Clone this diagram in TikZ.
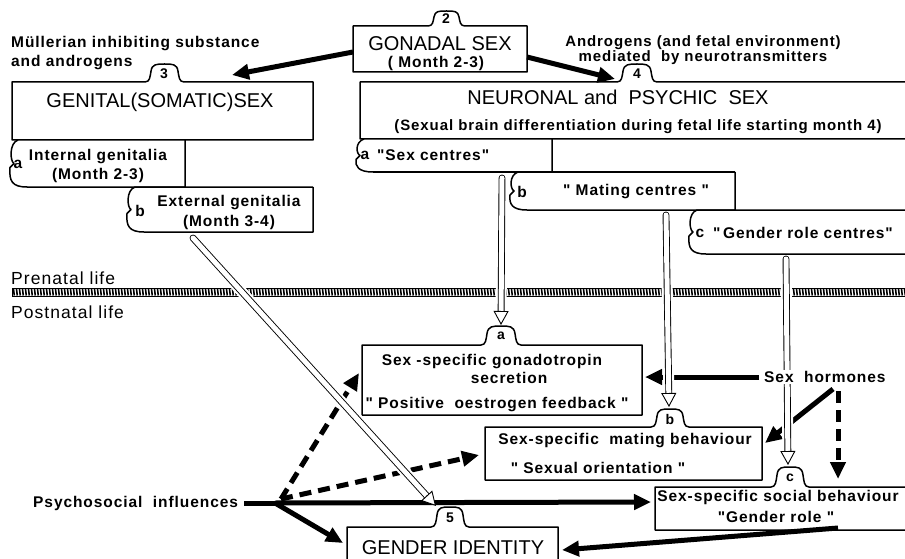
\documentclass[tikz,border=0pt]{standalone}
\usepackage{fontspec}
\setmainfont{Liberation Sans}
\newfontfamily\lblfamily[LetterSpace=6]{Liberation Sans}
\usetikzlibrary{arrows.meta,calc}

\newcommand{\lbl}{\lblfamily\bfseries\fontsize{15.5}{17}\selectfont}
\newcommand{\ttl}{\fontsize{20}{22}\selectfont}
\newcommand{\lifefont}{\lblfamily\fontsize{17.5}{19}\selectfont}
\newcommand{\tabnum}{\bfseries\fontsize{14}{15}\selectfont}

\begin{document}
\begin{tikzpicture}[x=1pt, y=-1pt, >={Triangle[length=17pt,width=15pt]},
    box/.style={line width=1.5pt, line join=round},
    fat/.style={line width=5pt},
    fatdash/.style={line width=5pt, dash pattern=on 12pt off 7pt},
    halo/.style={white, line width=11pt, shorten <=2pt, shorten >=15pt},
    hollowshaft/.style={line width=0.9pt, double=white, double distance=5pt, line cap=round, shorten >=13pt},
    hollowhead/.style={line width=0.9pt, -{Triangle[fill=white,length=14pt,width=15pt]}},
    txt/.style={inner sep=0pt, font=\lbl},
    tab/.style n args={4}{insert path={-- (#1,#3)
      .. controls ({#1+5},#3) and ({#1+5},{#3-0.3*#4}) .. ({#1+6},{#3-0.6*#4})
      .. controls ({#1+7},{#3-#4}) and ({(#1+#2)/2-8},{#3-#4}) .. ({(#1+#2)/2},{#3-#4})
      .. controls ({(#1+#2)/2+8},{#3-#4}) and ({#2-7},{#3-#4}) .. ({#2-6},{#3-0.6*#4})
      .. controls ({#2-5},{#3-0.3*#4}) and ({#2-5},#3) .. (#2,#3)}},
    curl/.style n args={3}{insert path={-- ({#1+18},#3) .. controls ({#1+3},#3) and (#1,{#3-6}) .. ({#1+1},{(#2+#3)/2+4}) -- ({#1+5},{(#2+#3)/2}) .. controls ({#1+1},{(#2+#3)/2-2}) and (#1,{#2+3}) .. ({#1+9},#2)}}]
  \useasboundingbox (0,0) rectangle (905,559);

  % gonadal sex
  \draw[box] (353,72) -- (353,26) [tab={428}{465}{26}{15}] -- (527,26) -- (527,72) -- cycle;
  \node[txt, font=\tabnum] (n2) at (446,19) {2};
  \node[txt, font=\ttl] (gonadal) at (440,44) {GONADAL SEX};
  \node[txt] (gonadalm) at (436,63) {( Month 2-3)};

  \node[txt, align=left, anchor=north west, font={\lbl\fontsize{15.5}{19}\selectfont}] (mis) at (11,36) {Müllerian inhibiting substance\\and androgens};
  \node[txt, align=center, font={\lbl\fontsize{15}{15}\selectfont}] (andro) at (703,50) {Androgens (and fetal environment)\\mediated\ \ by neurotransmitters};

  % genital (somatic) sex
  \draw[box] (12,140) -- (12,82) [tab={145}{184}{82}{18}] -- (313,82) -- (313,140) -- cycle;
  \node[txt, font=\tabnum] (n3) at (164,74) {3};
  \node[txt, font=\ttl] (genital) at (160,102) {GENITAL(SOMATIC)SEX};
  \draw[box] (185,140) -- (185,187) [curl={9}{140}{187}];
  \node[txt] (ia) at (18,164) {a};
  \node[txt, align=center, font={\lbl\fontsize{15.5}{19}\selectfont}] (intg) at (98,166) {Internal genitalia\\(Month 2-3)};
  \draw[box] (313,187) -- (313,232) [curl={126}{187}{232}] -- (313,187);
  \node[txt] (ea) at (140,211) {b};
  \node[txt, align=center, font={\lbl\fontsize{15.5}{20}\selectfont}] (extg) at (229,212) {External genitalia\\(Month 3-4)};

  % neuronal and psychic sex
  \draw[box] (910,139) -- (360,139) -- (360,82) [tab={617}{657}{82}{18}] -- (910,82);
  \node[txt, font=\tabnum] (n4) at (637,74) {4};
  \node[txt, font=\ttl] (neuronal) at (618,97) {NEURONAL and\ \ PSYCHIC\ \ SEX};
  \node[txt, font={\lbl\fontsize{15}{16}\selectfont}] (neurosub) at (638,127) {(Sexual brain differentiation during fetal life starting month 4)};
  \draw[box] (552,139) -- (552,172) [curl={355}{139}{172}];
  \node[txt] (sa) at (365,155) {a};
  \node[txt, anchor=west] (sexc) at (377,155) {"Sex centres"};
  \draw[box] (735,172) -- (735,210) [curl={509}{172}{210}] -- (735,172);
  \node[txt] (mb) at (522,192) {b};
  \node[txt] (matc) at (636,192) {" Mating centres "};
  \draw[box] (910,254) [curl={688}{210}{254}] -- (910,210);
  \node[txt] (gc) at (700,233) {c};
  \node[txt, anchor=west] (genc) at (713,233) {"\,Gender role centres"};

  % prenatal / postnatal
  \node[txt, anchor=west, font=\lifefont] (pre) at (11,278) {Prenatal life};
  \node[txt, anchor=west, font=\lifefont] (post) at (11,312) {Postnatal life};
  \draw[line width=0.9pt] (12,288.5) rectangle (910,296);
  \foreach \x in {13.5,16.5,...,905}
    \draw[line width=1.6pt] (\x,289) -- ({\x+0.8},295.5);

  % gonadotropin secretion
  \draw[box] (362,415) -- (362,345) [tab={481}{521}{345}{19}] -- (642,345) -- (642,415) -- cycle;
  \node[txt, font=\tabnum] (na) at (501,336) {a};
  \node[txt, align=center, font={\lbl\fontsize{15.5}{18}\selectfont}] (gona) at (492,369) {Sex -specific gonadotropin\\\hspace*{2.2em}secretion};
  \node[txt] (posfb) at (497,405) {" Positive\ \ oestrogen feedback "};

  % mating behaviour
  \draw[box] (485,480) -- (485,427) [tab={651}{689}{427}{18}] -- (762,427) -- (762,480) -- cycle;
  \node[txt, font=\tabnum] (nb) at (670,419) {b};
  \node[txt] (matb) at (625,441) {Sex-specific\ \ mating behaviour};
  \node[txt] (sexor) at (598,468) {" Sexual orientation "};

  % social behaviour
  \draw[box] (910,530) -- (655,530) -- (655,487) [tab={771}{809}{487}{20}] -- (910,487);
  \node[txt, font=\tabnum] (nc) at (790,478) {c};
  \node[txt] (socb) at (778,497) {Sex-specific social behaviour};
  \node[txt] (genrole) at (776,517) {"Gender role "};

  % gender identity
  \draw[box] (347,565) -- (347,527) [tab={431}{469}{527}{20}] -- (558,527) -- (558,565);
  \node[txt, font=\tabnum] (n5) at (450,518) {5};
  \node[txt, font=\ttl] (gid) at (453,548) {GENDER IDENTITY};

  \node[txt, anchor=west] (psy) at (33,503) {Psychosocial\ \ influences};

  % black arrows
  \coordinate (gonL) at (353,52);  \coordinate (genT) at (232,75);
  \coordinate (gonR) at (527,57);  \coordinate (neuT) at (615,79);
  \draw[fat,->] (gonL) -- (genT);
  \draw[fat,->] (gonR) -- (neuT);

  \coordinate (jn) at (275,503);   \coordinate (jd) at (281,499);
  \coordinate (socL) at (651,502); \coordinate (gidL) at (343,543);
  \coordinate (gonaL) at (359,373); \coordinate (matL) at (479,455);
  \draw[fat] ([xshift=6pt]psy.east) -- (jn);
  \draw[fat,->] (jn) -- (socL);
  \draw[fat,->] (jn) -- (gidL);
  \draw[fatdash,->] (jd) -- (gonaL);
  \draw[fatdash,->] (jd) -- (matL);

  \coordinate (hormW) at (759,377); \coordinate (gonaR) at (645,377);
  \coordinate (hormS) at (833,389); \coordinate (matR) at (765,443);
  \coordinate (hormD) at (838,391); \coordinate (socT) at (838,479);
  \coordinate (socB) at (838,528);  \coordinate (gidR) at (562,550);
  \draw[fat,->] (hormW) -- (gonaR);
  \draw[fat,->] (hormS) -- (matR);
  \draw[fatdash,->] (hormD) -- (socT);
  \draw[fat,->] (socB) -- (gidR);

  % hollow arrows
  \coordinate (sexcB) at (502,178); \coordinate (gonaTab) at (501,325);
  \coordinate (matcB) at (666,215); \coordinate (matTab) at (669,407);
  \coordinate (gencB) at (786,259); \coordinate (socTab) at (788,465);
  \coordinate (extgB) at (193,238); \coordinate (gidTab) at (436,506);
  \foreach \s/\t in {sexcB/gonaTab, matcB/matTab, gencB/socTab, extgB/gidTab}{
    \draw[halo] (\s) -- (\t);
    \draw[hollowshaft] (\s) -- (\t);
    \draw[hollowhead] ($(\t)!14pt!(\s)$) -- (\t);
  }

  \node[txt, anchor=west, fill=white, inner sep=1pt] (horm) at (763,377) {Sex\ \ hormones};
\end{tikzpicture}
\end{document}
